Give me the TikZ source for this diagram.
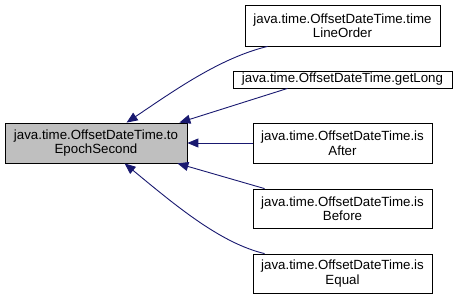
\documentclass[tikz,border=0pt]{standalone}
\usepackage{fontspec}
\setmainfont{Liberation Sans}
\usetikzlibrary{arrows.meta,calc}
\definecolor{edgeblue}{RGB}{25,25,112}
\definecolor{boxgray}{RGB}{191,191,191}
\tikzset{
  fn/.style={draw=black, line width=0.8pt, fill=white, align=center,
    font=\fontsize{13.3}{14.5}\selectfont, inner sep=0pt},
  mainfn/.style={fn, fill=boxgray},
  calledby/.style={draw=edgeblue, line width=0.9pt,
    {Triangle[length=11pt,width=9pt]}-}
}
\begin{document}
\begin{tikzpicture}[x=1pt,y=-1pt]
\useasboundingbox (0,0) rectangle (456,300);
\node[mainfn, minimum width=182pt, minimum height=40pt] (main) at (96,143)
  {java.time.OffsetDateTime.to\\EpochSecond};
\node[fn, minimum width=195pt, minimum height=41pt] (n1) at (342.5,25.5)
  {java.time.OffsetDateTime.time\\LineOrder};
\node[fn, minimum width=219pt, minimum height=17pt] (n2) at (342.5,79.5)
  {java.time.OffsetDateTime.getLong};
\node[fn, minimum width=179pt, minimum height=40pt] (n3) at (342.5,143)
  {java.time.OffsetDateTime.is\\After};
\node[fn, minimum width=179pt, minimum height=39pt] (n4) at (342.5,208.5)
  {java.time.OffsetDateTime.is\\Before};
\node[fn, minimum width=179pt, minimum height=39pt] (n5) at (342.5,273.5)
  {java.time.OffsetDateTime.is\\Equal};
% callers point back at the method they invoke
\draw[calledby] ($(main.north west)+(122,0)$) .. controls (175,90) and (220,58) .. ($(n1.south west)+(23,0)$);
\draw[calledby] ($(main.north east)+(-8,0)$) -- ($(n2.south west)+(55,0)$);
\draw[calledby] (main.east) -- (n3.west);
\draw[calledby] ($(main.south east)+(-10,0)$) -- ($(n4.north west)+(12,0)$);
\draw[calledby] ($(main.south west)+(120,0)$) .. controls (175,205) and (220,243) .. ($(n5.north west)+(12,0)$);
\end{tikzpicture}
\end{document}
